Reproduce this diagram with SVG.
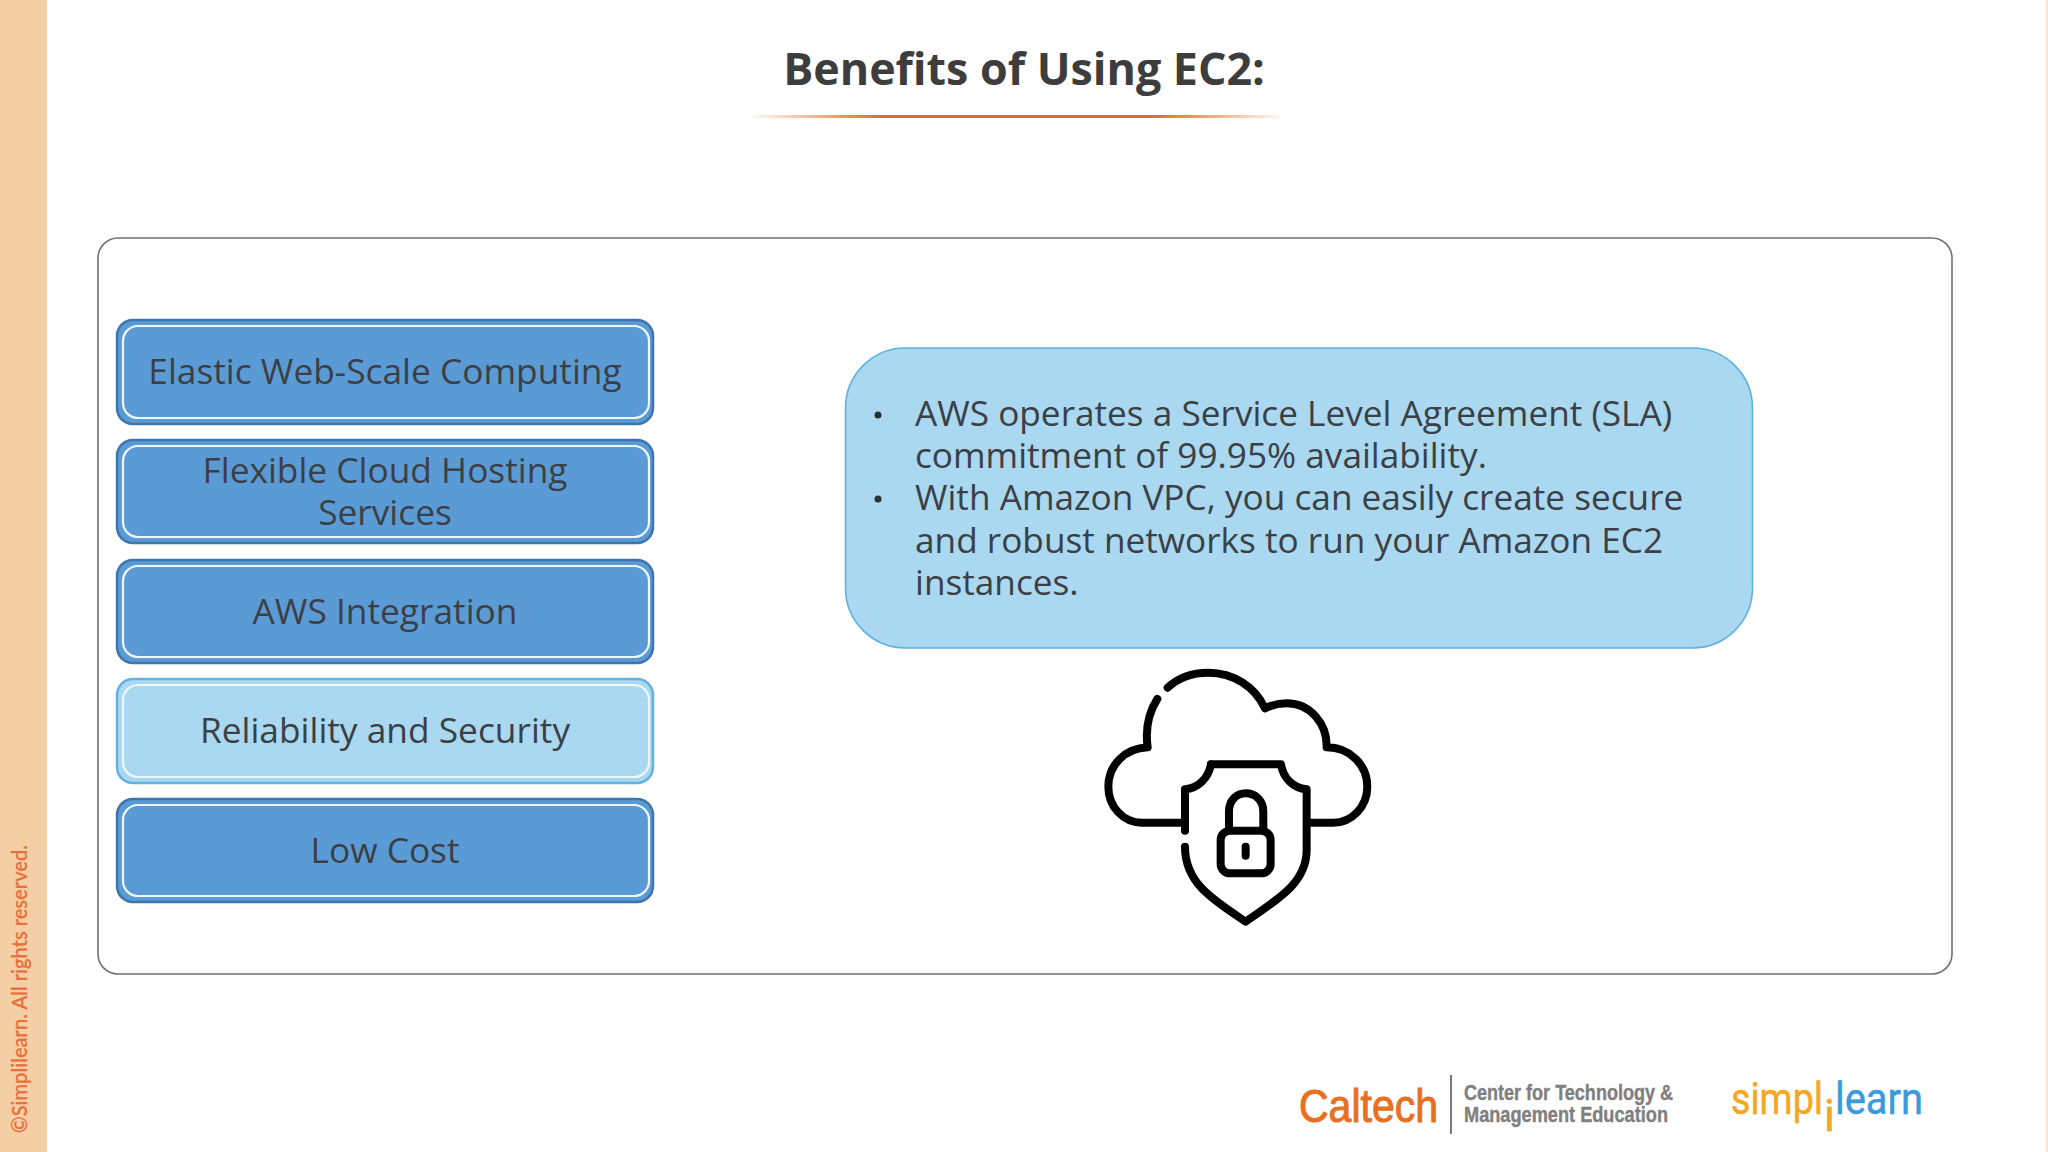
<svg xmlns="http://www.w3.org/2000/svg" width="2048" height="1152" viewBox="0 0 2048 1152">
<style>
text{font-family:"Open Sans","Noto Sans","Liberation Sans",sans-serif;fill:#3b3f46}
.lbl{font-size:35.3px;text-anchor:middle}
.body{font-size:35.2px}
.outer{fill:#5b9bd5;stroke:#3f74ac;stroke-width:2.5}
.inner{fill:none;stroke:#eef6fb;stroke-width:2.2}
.lt .outer{fill:#a9d8f0;stroke:#62b2de}
.ic{fill:none;stroke:#000;stroke-width:24;stroke-linecap:round;stroke-linejoin:round}
.cap{font-family:"Liberation Sans",Arial,sans-serif;font-weight:700;font-size:22px;fill:#7f7f7f;stroke:#7f7f7f;stroke-width:.4}
</style>
<defs>
<linearGradient id="rule" x1="0" x2="1" y1="0" y2="0">
<stop offset="0" stop-color="#e06c1f" stop-opacity="0"/>
<stop offset=".25" stop-color="#e06c1f"/>
<stop offset=".75" stop-color="#e06c1f"/>
<stop offset="1" stop-color="#e06c1f" stop-opacity="0"/>
</linearGradient>
</defs>
<rect width="2048" height="1152" fill="#fff"/>
<rect id="sidebar" x="0" y="0" width="47" height="1152" fill="#f4cfa5"/>
<rect x="2046" y="0" width="2" height="1152" fill="#f8e4d0"/>
<text id="copyright" transform="translate(27,1133) rotate(-90)" font-size="22" textLength="288" lengthAdjust="spacingAndGlyphs" stroke="#e8703a" stroke-width=".3" style="font-family:Lato,'Open Sans',sans-serif;fill:#e8703a;font-weight:500">©Simplilearn. All rights reserved.</text>
<g id="title">
<text x="1024" y="85" text-anchor="middle" font-size="44.8" font-weight="700" style="fill:#3d3d3d">Benefits of Using EC2:</text>
<rect x="747" y="115" width="540" height="3" fill="url(#rule)"/>
</g>
<rect id="frame" x="98" y="238" width="1854" height="736" rx="20" fill="#fff" stroke="#707070" stroke-width="1.6"/>
<g id="node-elastic">
<rect class="outer" x="117" y="320" width="536" height="104" rx="16"/>
<rect class="inner" x="123" y="326" width="526" height="92" rx="15"/>
<text class="lbl" x="385" y="384">Elastic Web-Scale Computing</text>
</g>
<g id="node-flexible">
<rect class="outer" x="117" y="440" width="536" height="103" rx="16"/>
<rect class="inner" x="123" y="446" width="526" height="91" rx="15"/>
<text class="lbl"><tspan x="385" y="483">Flexible Cloud Hosting</tspan><tspan x="385" y="525">Services</tspan></text>
</g>
<g id="node-aws">
<rect class="outer" x="117" y="560" width="536" height="103" rx="16"/>
<rect class="inner" x="123" y="566" width="526" height="91" rx="15"/>
<text class="lbl" x="385" y="624">AWS Integration</text>
</g>
<g id="node-reliability" class="lt">
<rect class="outer" x="117" y="679" width="536" height="104" rx="16"/>
<rect class="inner" x="123" y="685" width="526" height="92" rx="15"/>
<text class="lbl" x="385" y="743">Reliability and Security</text>
</g>
<g id="node-cost">
<rect class="outer" x="117" y="799" width="536" height="103" rx="16"/>
<rect class="inner" x="123" y="805" width="526" height="91" rx="15"/>
<text class="lbl" x="385" y="863">Low Cost</text>
</g>
<g id="node-detail">
<rect x="845.5" y="348" width="907" height="300" rx="60" fill="#a9d8f0" stroke="#5fb2de" stroke-width="1.6"/>
<circle cx="878" cy="415" r="3.5" fill="#2b2f36"/>
<circle cx="878" cy="499" r="3.5" fill="#2b2f36"/>
<text class="body"><tspan x="915" y="426">AWS operates a Service Level Agreement (SLA)</tspan><tspan x="915" y="468">commitment of 99.95% availability.</tspan><tspan x="915" y="510">With Amazon VPC, you can easily create secure</tspan><tspan x="915" y="553">and robust networks to run your Amazon EC2</tspan><tspan x="915" y="595">instances.</tspan></text>
</g>
<g id="icon" class="ic" transform="translate(1080,650) scale(.3333)">
<path d="M263 113C300 78 340 68 385 68C460 68 525 110 555 175C575 165 600 160 620 160C690 160 742 220 740 292C810 292 862 345 862 410C862 470 815 518 760 518H690"/>
<path d="M305 518H185C130 518 85 470 85 410C85 345 135 295 203 292C195 235 205 190 232 147"/>
<path d="M393 343H603C610 385 640 415 680 418V600C680 700 590 750 497 815C400 750 315 700 315 590"/>
<path d="M315 542V418C355 415 385 385 393 343"/>
<rect x="422" y="542" width="150" height="128" rx="28"/>
<path d="M447 540V485C447 450 470 430 497 430C525 430 550 450 550 485V540"/>
<path d="M497 590V617"/>
</g>
<g id="logos">
<text x="1299" y="1122" font-size="46" textLength="139" lengthAdjust="spacingAndGlyphs" stroke="#e8701f" stroke-width="1" style="font-family:'Liberation Sans',Arial,sans-serif;fill:#e8701f">Caltech</text>
<rect x="1450" y="1075" width="2" height="59" fill="#7a7a7a"/>
<text class="cap"><tspan x="1464" y="1100" textLength="209" lengthAdjust="spacingAndGlyphs">Center for Technology &amp;</tspan><tspan x="1464" y="1122" textLength="204" lengthAdjust="spacingAndGlyphs">Management Education</tspan></text>
<text font-size="45" stroke-width=".5" style="font-family:Roboto,'Open Sans',sans-serif"><tspan x="1731" y="1114" textLength="92" lengthAdjust="spacingAndGlyphs" stroke="#f5a623" style="fill:#f5a623">simpl</tspan><tspan x="1824" y="1131" stroke="#f5a623" style="fill:#f5a623">i</tspan><tspan x="1835" y="1114" textLength="88" lengthAdjust="spacingAndGlyphs" stroke="#3a9bdc" style="fill:#3a9bdc">learn</tspan></text>
</g>
<g id="connectors"/>
</svg>
